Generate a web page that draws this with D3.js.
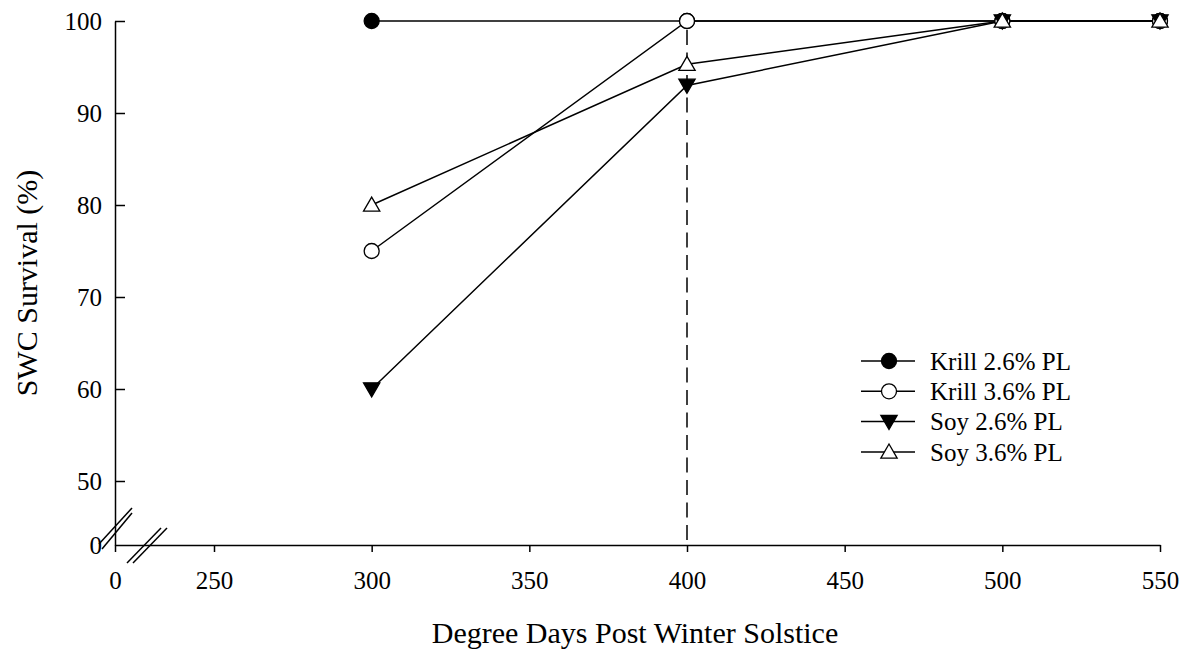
<!DOCTYPE html>
<html lang="en">
<head>
  <meta charset="UTF-8">
  <title>SWC Survival</title>
  <style>
    body { margin: 0; background: #fff; }
    text { font-family: "Liberation Serif", "Times New Roman", serif; fill: #000; }
  </style>
</head>
<body>
  <script src="https://d3js.org/d3.v7.min.js"></script>
  <script>
    const [width, height] = [1191, 655];

    // data
    const degreeDays = [300, 400, 500, 550];
    const krill26 = [100, 100, 100, 100];
    const krill36 = [75, 100, 100, 100];
    const soy26 = [60, 93, 100, 100];
    const soy36 = [80, 95.3, 100, 100];
    const seriesNames = ['Krill 2.6% PL', 'Krill 3.6% PL', 'Soy 2.6% PL', 'Soy 3.6% PL'];
    const xTicks = [0, 250, 300, 350, 400, 450, 500, 550];
    const yTicks = [0, 50, 60, 70, 80, 90, 100];
    const refLine = 400;

    const series = [
      { name: seriesNames[0], values: krill26, shape: 'circle', fill: '#000' },
      { name: seriesNames[1], values: krill36, shape: 'circle', fill: '#fff' },
      { name: seriesNames[2], values: soy26, shape: 'down', fill: '#000' },
      { name: seriesNames[3], values: soy36, shape: 'up', fill: '#fff' },
    ];

    const svg = d3.select('body').append('svg').attr('width', width).attr('height', height);

    // broken axes: piecewise scales
    const x = d3.scaleLinear().domain([0, 250, 550]).range([115, 214, 1160]);
    const y = d3.scaleLinear().domain([0, 50, 100]).range([545, 481, 21]);

    const xAxis = d3.axisBottom(x).tickValues(xTicks).tickSize(7).tickSizeOuter(0).tickPadding(19);
    const yAxis = d3.axisLeft(y).tickValues(yTicks).tickSize(-10).tickSizeOuter(0).tickPadding(13);

    const gx = svg.append('g').attr('transform', `translate(0, ${y(0)})`).call(xAxis);
    const gy = svg.append('g').attr('transform', `translate(${x(0)}, 0)`).call(yAxis);
    [gx, gy].forEach(g => {
      g.select('.domain').attr('stroke', '#000').attr('stroke-width', 1.5);
      g.selectAll('.tick line').attr('stroke', '#000').attr('stroke-width', 1.5);
      g.selectAll('.tick text').attr('font-size', 25).attr('font-family', '"Liberation Serif", serif');
    });
    gy.selectAll('.tick').filter(d => d === 0).select('line').remove();

    // break marks
    const breaks = svg.append('g').attr('stroke', '#000').attr('stroke-width', 1.5).attr('fill', 'none');
    const yb = y(0) - 17;
    [[-16, 0], [-13, 5]].forEach(([dx, dy]) => {
      breaks.append('line')
        .attr('x1', x(0) + dx).attr('y1', yb + 16 + dy)
        .attr('x2', x(0) + 17).attr('y2', yb - 20 + dy);
    });
    const xb = x(0) + 32;
    [-3, 3].forEach(dx => {
      breaks.append('line')
        .attr('x1', xb + dx - 17).attr('y1', y(0) + 18)
        .attr('x2', xb + dx + 17).attr('y2', y(0) - 17);
    });

    // dashed reference line
    svg.append('line')
      .attr('x1', x(refLine)).attr('x2', x(refLine))
      .attr('y1', y(100) + 9).attr('y2', y(0))
      .attr('stroke', '#000').attr('stroke-width', 1.5)
      .attr('stroke-dasharray', '15,7.5');

    const symbolPath = shape => {
      if (shape === 'circle') return d3.symbol(d3.symbolCircle, 177)();
      return d3.symbol(d3.symbolTriangle, 115)();
    };
    const rot = shape => shape === 'down' ? ' rotate(180)' : '';
    const off = shape => shape === 'circle' ? 0 : (shape === 'up' ? 1.5 : -1.5);

    const line = d3.line().x((d, i) => x(degreeDays[i])).y(d => y(d));

    series.forEach(s => {
      svg.append('path')
        .attr('d', line(s.values))
        .attr('fill', 'none').attr('stroke', '#000').attr('stroke-width', 1.5);
    });
    series.forEach(s => {
      svg.append('g').selectAll('path')
        .data(s.values)
        .join('path')
        .attr('d', symbolPath(s.shape))
        .attr('transform', (d, i) => `translate(${x(degreeDays[i])}, ${y(d) + off(s.shape)})${rot(s.shape)}`)
        .attr('fill', s.fill).attr('stroke', '#000').attr('stroke-width', 1.3);
    });

    // legend
    const legend = svg.append('g').attr('transform', 'translate(861, 361)');
    series.forEach((s, i) => {
      const row = legend.append('g').attr('transform', `translate(0, ${i * 30.3})`);
      row.append('line').attr('x1', 0).attr('x2', 54).attr('y1', 0).attr('y2', 0)
        .attr('stroke', '#000').attr('stroke-width', 1.5);
      row.append('path').attr('d', symbolPath(s.shape))
        .attr('transform', `translate(28, ${off(s.shape)})${rot(s.shape)}`)
        .attr('fill', s.fill).attr('stroke', '#000').attr('stroke-width', 1.3);
      row.append('text').attr('x', 69).attr('y', 0).attr('dy', '0.35em')
        .attr('font-size', 25).text(s.name);
    });

    // axis titles
    svg.append('text')
      .attr('x', 635).attr('y', 643)
      .attr('text-anchor', 'middle').attr('font-size', 30)
      .text('Degree Days Post Winter Solstice');
    svg.append('text')
      .attr('transform', `translate(37, ${(y(0) + y(100)) / 2}) rotate(-90)`)
      .attr('text-anchor', 'middle').attr('font-size', 30)
      .text('SWC Survival (%)');
  </script>
</body>
</html>
